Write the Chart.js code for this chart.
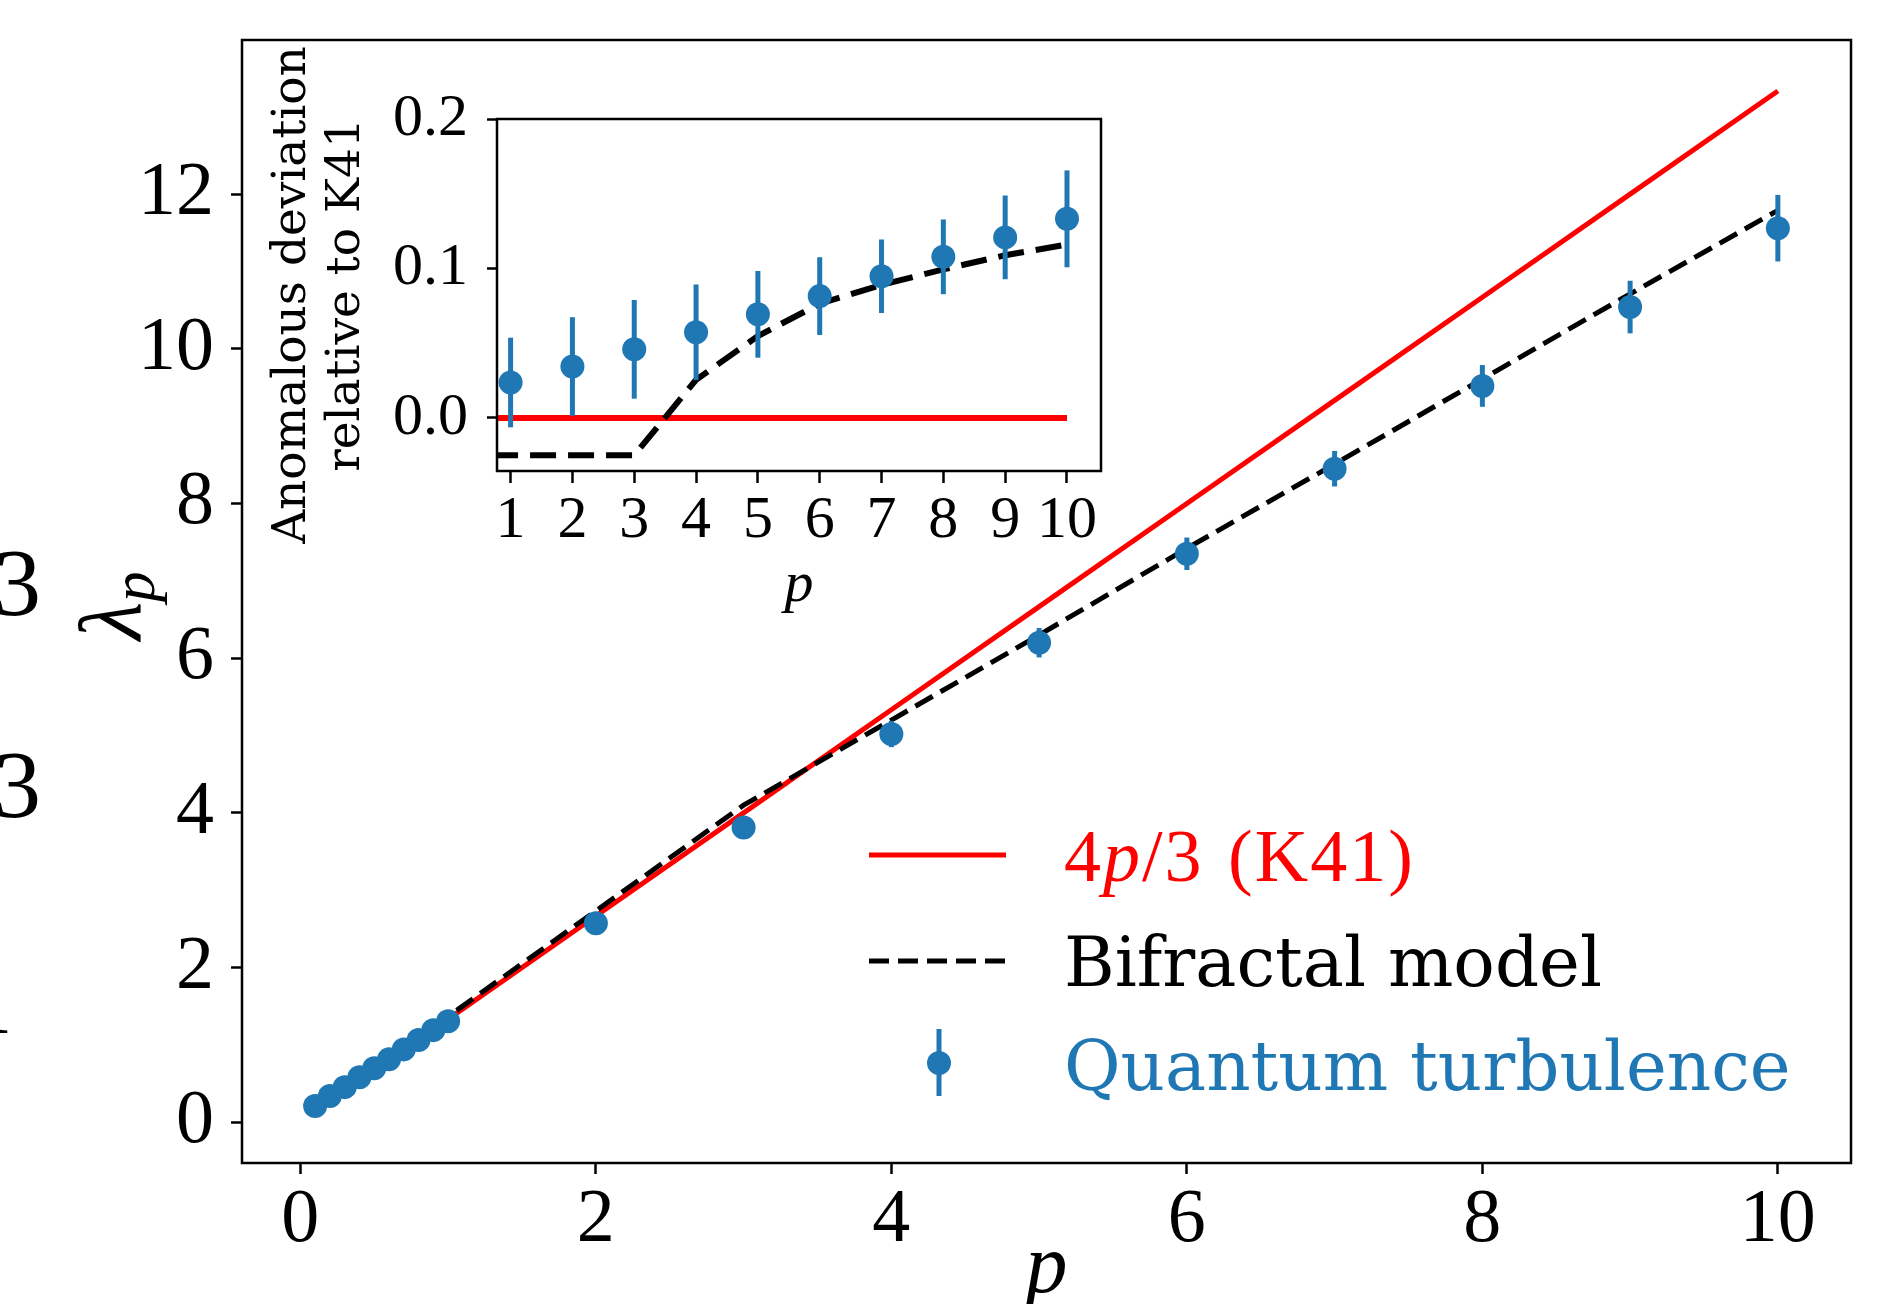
<!DOCTYPE html>
<html>
<head>
<meta charset="utf-8">
<script src="https://cdn.jsdelivr.net/npm/chart.js@4.4.1/dist/chart.umd.min.js"></script>
<style>
  html, body { margin: 0; padding: 0; background: #fff; }
  #wrap { position: relative; width: 1883px; height: 1304px; overflow: hidden; }
  #wrap canvas { position: absolute; left: 0; top: 0; }
</style>
</head>
<body>
<div id="wrap">
  <canvas id="main" width="1883" height="1304"></canvas>
  <canvas id="inset" width="1883" height="1304"></canvas>
</div>
<script>
// ── Data: main panel (lambda_p vs p) ──────────────────────────────────────
const P = [0.1, 0.2, 0.3, 0.4, 0.5, 0.6, 0.7, 0.8, 0.9, 1, 2, 3, 4, 5, 6, 7, 8, 9, 10];
const LAMBDA_QT = [0.209, 0.338, 0.454, 0.583, 0.699, 0.813, 0.942, 1.062, 1.191, 1.307,
                   2.574, 3.81, 5.02, 6.20, 7.35, 8.45, 9.52, 10.54, 11.56];
const LAMBDA_ERR = [0.004, 0.008, 0.012, 0.016, 0.02, 0.024, 0.028, 0.032, 0.036, 0.04,
                    0.088, 0.13, 0.17, 0.19, 0.21, 0.23, 0.27, 0.34, 0.43];
const LAMBDA_K41 = [0.133, 0.267, 0.4, 0.533, 0.667, 0.8, 0.933, 1.067, 1.2, 1.333,
                    2.667, 4, 5.333, 6.667, 8, 9.333, 10.667, 12, 13.333];
const LAMBDA_BIFRACTAL = [0.137, 0.273, 0.41, 0.547, 0.683, 0.82, 0.957, 1.093, 1.23, 1.367,
                          2.733, 4.1, 5.2, 6.3, 7.42, 8.51, 9.61, 10.71, 11.79];
const X_TICKS = [0, 2, 4, 6, 8, 10];
const Y_TICKS = [0, 2, 4, 6, 8, 10, 12];

// ── Data: inset (anomalous deviation relative to K41) ─────────────────────
const P_INSET = [1, 2, 3, 4, 5, 6, 7, 8, 9, 10];
const DEV_QT = [0.0237, 0.0344, 0.0459, 0.0573, 0.0693, 0.0815, 0.0948, 0.1078, 0.1208, 0.1332];
const DEV_ERR = [0.030, 0.033, 0.033, 0.032, 0.029, 0.026, 0.0246, 0.025, 0.028, 0.0324];
const DEV_K41 = [0, 0, 0, 0, 0, 0, 0, 0, 0, 0, 0, 0, 0, 0, 0, 0, 0, 0, 0];
const DEV_BIFRACTAL = [-0.025, -0.025, -0.025, -0.025, -0.025, -0.025, -0.025, -0.025, -0.025, -0.025,
                       -0.025, -0.025, 0.0255, 0.0548, 0.0764, 0.089, 0.0994, 0.1088, 0.116];
const INSET_X_TICKS = [1, 2, 3, 4, 5, 6, 7, 8, 9, 10];
const INSET_Y_TICKS = [0, 0.1, 0.2];

const BLUE = '#1f77b4';
const RED = '#ff0000';
const MATH = '"Liberation Serif", serif';
const TEXT = '"DejaVu Serif", serif';

const pts = (xs, ys) => xs.map((x, i) => ({ x, y: ys[i] }));

// ── Plugins ───────────────────────────────────────────────────────────────

// error bars drawn just under the markers
const errorBars = {
  id: 'errorBars',
  beforeDatasetDraw(chart, args) {
    const ds = chart.data.datasets[args.index];
    if (!ds.errors) return;
    const { ctx, chartArea: a, scales: { x, y } } = chart;
    ctx.save();
    ctx.beginPath();
    ctx.rect(a.left, a.top, a.width, a.height);
    ctx.clip();
    ctx.strokeStyle = ds.borderColor;
    ctx.lineWidth = 5;
    ds.data.forEach((pt, i) => {
      const px = x.getPixelForValue(pt.x);
      ctx.beginPath();
      ctx.moveTo(px, y.getPixelForValue(pt.y - ds.errors[i]));
      ctx.lineTo(px, y.getPixelForValue(pt.y + ds.errors[i]));
      ctx.stroke();
    });
    ctx.restore();
  },
};

// white face + full box frame
const frame = {
  id: 'frame',
  beforeDraw(chart) {
    const { ctx, chartArea: a } = chart;
    ctx.save();
    ctx.fillStyle = '#fff';
    ctx.fillRect(a.left, a.top, a.width, a.height);
    ctx.restore();
  },
  afterDraw(chart) {
    const { ctx, chartArea: a } = chart;
    ctx.save();
    ctx.strokeStyle = '#000';
    ctx.lineWidth = 2.5;
    ctx.strokeRect(a.left, a.top, a.width, a.height);
    ctx.restore();
  },
};

// legend, rotated lambda_p label and the cut digits on the left edge
const mainDecor = {
  id: 'mainDecor',
  afterDraw(chart) {
    const { ctx } = chart;
    const [qt, bif, k41] = chart.data.datasets;
    ctx.save();

    // legend
    const x0 = 869, x1 = 1006, tx = 1064;
    ctx.lineCap = 'butt';
    ctx.strokeStyle = k41.borderColor;
    ctx.lineWidth = 5;
    ctx.beginPath(); ctx.moveTo(x0, 855); ctx.lineTo(x1, 855); ctx.stroke();
    ctx.textBaseline = 'alphabetic';
    ctx.textAlign = 'left';
    ctx.fillStyle = k41.borderColor;
    let cx = tx;
    k41.label.split('').forEach(ch => {
      ctx.font = (ch === 'p' ? 'italic ' : '') + '74px ' + MATH;
      ctx.fillText(ch, cx, 881);
      cx += ctx.measureText(ch).width + (ch === ' ' ? 6 : 2);
    });

    ctx.strokeStyle = bif.borderColor;
    ctx.setLineDash(bif.borderDash);
    ctx.beginPath(); ctx.moveTo(x0, 961); ctx.lineTo(x1, 961); ctx.stroke();
    ctx.setLineDash([]);
    ctx.fillStyle = bif.borderColor;
    ctx.font = '69px ' + TEXT;
    ctx.fillText(bif.label, tx, 986);

    ctx.strokeStyle = qt.borderColor;
    ctx.beginPath(); ctx.moveTo(939, 1029); ctx.lineTo(939, 1096); ctx.stroke();
    ctx.fillStyle = qt.borderColor;
    ctx.beginPath(); ctx.arc(939, 1063, 12, 0, 2 * Math.PI); ctx.fill();
    ctx.fillText(qt.label, tx, 1090);

    // y label: lambda_p
    ctx.fillStyle = '#000';
    ctx.translate(140, 640);
    ctx.rotate(-Math.PI / 2);
    ctx.font = 'italic 88px ' + MATH;
    ctx.fillText('λ', 0, 0);
    const w = ctx.measureText('λ').width;
    ctx.font = 'italic 61px ' + MATH;
    ctx.fillText('p', w, 14);
    ctx.restore();

    // fragments of a neighbouring figure cut by the left edge
    ctx.save();
    ctx.fillStyle = '#000';
    ctx.font = '96px ' + MATH;
    ctx.fillText('3', -7, 615);
    ctx.fillText('3', -7, 817);
    ctx.fillText('1', -35, 1033);
    ctx.restore();
  },
};

const tickGrid = len => ({
  display: true, drawOnChartArea: false, drawTicks: true,
  tickLength: len, tickWidth: 2.5, tickColor: '#000',
});

// keep the axis box where it is, whatever the label sizes
const noPadY = s => { s.paddingTop = 0; s.paddingBottom = 0; };

// ── Main chart ────────────────────────────────────────────────────────────
new Chart(document.getElementById('main'), {
  type: 'line',
  data: {
    datasets: [
      {
        label: 'Quantum turbulence', data: pts(P, LAMBDA_QT), errors: LAMBDA_ERR,
        showLine: false, pointRadius: 12, pointBorderWidth: 0,
        pointBackgroundColor: BLUE, borderColor: BLUE, backgroundColor: BLUE, order: 0,
      },
      {
        label: 'Bifractal model', data: pts(P, LAMBDA_BIFRACTAL),
        borderColor: '#000', borderWidth: 5, borderDash: [20, 9], pointRadius: 0, order: 1,
      },
      {
        label: '4p/3 (K41)', data: pts(P, LAMBDA_K41),
        borderColor: RED, borderWidth: 5, pointRadius: 0, order: 2,
      },
    ],
  },
  options: {
    responsive: false, animation: false, events: [],
    layout: { padding: { left: 0, top: 40, right: 32, bottom: 0 } },
    plugins: { legend: { display: false }, tooltip: { enabled: false } },
    scales: {
      x: {
        type: 'linear', min: -0.395, max: 10.495,
        afterFit: s => { s.height = 141; s.paddingLeft = 0; s.paddingRight = 0; },
        afterBuildTicks: s => { s.ticks = X_TICKS.map(v => ({ value: v })); },
        grid: tickGrid(11), border: { display: false },
        ticks: { color: '#000', padding: 1, font: { family: MATH, size: 76 } },
        title: { display: true, text: 'p', color: '#000', padding: 0,
                 font: { family: MATH, size: 84, style: 'italic', lineHeight: 0.8 } },
      },
      y: {
        type: 'linear', min: -0.527, max: 13.993,
        afterFit: s => { s.width = 242; noPadY(s); },
        afterBuildTicks: s => { s.ticks = Y_TICKS.map(v => ({ value: v })); },
        grid: tickGrid(11), border: { display: false },
        ticks: { color: '#000', padding: 17, font: { family: MATH, size: 76 } },
      },
    },
  },
  plugins: [errorBars, frame, mainDecor],
});

// ── Inset ─────────────────────────────────────────────────────────────────
new Chart(document.getElementById('inset'), {
  type: 'line',
  data: {
    datasets: [
      {
        label: 'Quantum turbulence', data: pts(P_INSET, DEV_QT), errors: DEV_ERR,
        showLine: false, pointRadius: 12, pointBorderWidth: 0,
        pointBackgroundColor: BLUE, borderColor: BLUE, backgroundColor: BLUE, order: 0,
      },
      {
        label: 'Bifractal model', data: pts(P, DEV_BIFRACTAL),
        borderColor: '#000', borderWidth: 6, borderDash: [26, 12], pointRadius: 0, order: 1,
      },
      {
        label: '4p/3 (K41)', data: pts(P, DEV_K41),
        borderColor: RED, borderWidth: 6, pointRadius: 0, order: 2,
      },
    ],
  },
  options: {
    responsive: false, animation: false, events: [],
    layout: { padding: { left: 250, top: 119, right: 782, bottom: 683 } },
    plugins: { legend: { display: false }, tooltip: { enabled: false } },
    scales: {
      x: {
        type: 'linear', min: 0.78, max: 10.55,
        afterFit: s => { s.height = 150; s.paddingLeft = 0; s.paddingRight = 0; },
        afterBuildTicks: s => { s.ticks = INSET_X_TICKS.map(v => ({ value: v })); },
        grid: tickGrid(12), border: { display: false },
        ticks: { color: '#000', padding: 2, font: { family: MATH, size: 60 } },
        title: { display: true, text: 'p', color: '#000', padding: 0,
                 font: { family: MATH, size: 58, style: 'italic', lineHeight: 1.2 } },
      },
      y: {
        type: 'linear', min: -0.0355, max: 0.2,
        afterFit: s => { s.width = 247; noPadY(s); },
        afterBuildTicks: s => { s.ticks = INSET_Y_TICKS.map(v => ({ value: v })); },
        grid: tickGrid(10), border: { display: false },
        ticks: { color: '#000', padding: 19, font: { family: MATH, size: 60 },
                 callback: v => v.toFixed(1) },
        title: { display: true, text: ['Anomalous deviation', 'relative to K41'], color: '#000',
                 padding: { top: 16, bottom: 0 },
                 font: { family: TEXT, size: 47, lineHeight: 1.15 } },
      },
    },
  },
  plugins: [errorBars, frame],
});
</script>
</body>
</html>
